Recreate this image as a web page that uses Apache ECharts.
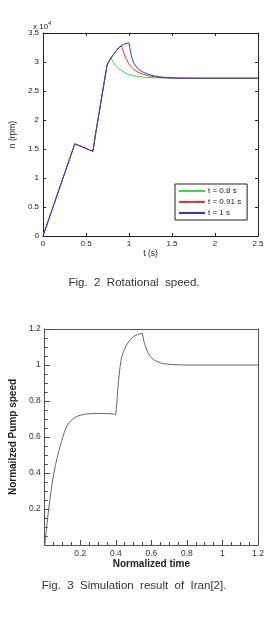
<!DOCTYPE html>
<html>
<head>
<meta charset="utf-8">
<script src="https://cdn.jsdelivr.net/npm/echarts@6/dist/echarts.min.js"></script>
<style>
  html, body { margin: 0; padding: 0; background: #fff; }
  #main { width: 268px; height: 625px; }
</style>
</head>
<body>
<div id="main"></div>
<script>
// Fig. 2 : rotational speed, values in units of 10^4 rpm
var rampPts = [[0, 0], [0.37, 1.59], [0.58, 1.46], [0.61, 1.75], [0.65, 2.1], [0.70, 2.55], [0.745, 2.95], [0.77, 3.02], [0.79, 3.07]];
var greenTail = [[0.80, 3.04], [0.82, 2.99], [0.85, 2.93], [0.88, 2.885], [0.92, 2.845], [0.96, 2.81], [1.0, 2.785], [1.05, 2.765], [1.1, 2.75], [1.2, 2.735], [1.3, 2.727], [1.45, 2.722], [1.6, 2.72], [2.5, 2.72]];
var redTail = [[0.82, 3.13], [0.85, 3.19], [0.88, 3.245], [0.91, 3.28], [0.92, 3.24], [0.935, 3.18], [0.95, 3.12], [0.97, 3.05], [0.99, 2.99], [1.01, 2.94], [1.04, 2.89], [1.08, 2.845], [1.12, 2.81], [1.17, 2.785], [1.23, 2.76], [1.3, 2.745], [1.4, 2.73], [1.55, 2.722], [1.75, 2.72], [2.5, 2.72]];
var blueTail = [[0.82, 3.13], [0.85, 3.19], [0.88, 3.245], [0.91, 3.28], [0.95, 3.31], [1.0, 3.33], [1.01, 3.25], [1.02, 3.16], [1.03, 3.09], [1.045, 3.02], [1.06, 2.97], [1.08, 2.93], [1.1, 2.89], [1.13, 2.855], [1.17, 2.82], [1.22, 2.79], [1.28, 2.765], [1.35, 2.745], [1.45, 2.73], [1.6, 2.722], [1.8, 2.72], [2.5, 2.72]];
var legendNames = ['t = 0.8 s', 't = 0.91 s', 't = 1 s'];

// Fig. 3 : normalized pump speed (Iran[2])
var pumpPts = [[0, 0], [0.01, 0.09], [0.02, 0.18], [0.03, 0.26], [0.04, 0.33], [0.05, 0.39], [0.06, 0.44], [0.07, 0.485], [0.08, 0.525], [0.09, 0.56], [0.1, 0.595], [0.11, 0.625], [0.12, 0.65], [0.13, 0.668], [0.14, 0.683], [0.16, 0.702], [0.18, 0.714], [0.2, 0.721], [0.23, 0.727], [0.27, 0.73], [0.32, 0.731], [0.36, 0.73], [0.4, 0.726],
	[0.405, 0.78], [0.41, 0.85], [0.416, 0.92], [0.424, 0.99], [0.432, 1.04], [0.445, 1.08], [0.46, 1.11], [0.48, 1.14], [0.5, 1.158], [0.52, 1.168], [0.535, 1.173], [0.548, 1.176],
	[0.553, 1.155], [0.56, 1.125], [0.568, 1.10], [0.58, 1.07], [0.595, 1.047], [0.61, 1.032], [0.63, 1.02], [0.65, 1.012], [0.68, 1.006], [0.71, 1.003], [0.75, 1.001], [0.8, 1.0], [1.2, 1.0]];

var chart = echarts.init(document.getElementById('main'));
var font = 'Arial, "Liberation Sans", sans-serif';

//MATLAB style box: ticks inside on all four sides
function boxAxis(type, pos, min, max, step, showLabel, name) {
	var ax = {
		type: 'value', gridIndex: 0, position: pos, min: min, max: max, interval: step,
		axisLine: { show: true, onZero: false, lineStyle: { color: '#222', width: 1 } },
		axisTick: { show: true, inside: true, length: 3, lineStyle: { color: '#222' } },
		axisLabel: { show: showLabel, fontSize: 8, color: '#222', fontFamily: font, margin: 4 },
		splitLine: { show: false }
	};
	if (name) {
		ax.name = name;
		ax.nameLocation = 'middle';
		ax.nameTextStyle = { fontSize: 8.5, color: '#222', fontFamily: font };
		ax.nameGap = type == 'x' ? 13 : 21;
	}
	return ax;
}

//Tecplot style: major + minor ticks on left/bottom, plain frame on top/right
function plotAxis(pos, ticks, name, gap) {
	return {
		type: 'value', gridIndex: 1, position: pos, min: 0, max: 1.2, interval: 0.2,
		axisLine: { show: true, onZero: false, lineStyle: { color: '#555', width: 1 } },
		axisTick: { show: ticks, inside: true, length: 5, lineStyle: { color: '#444' } },
		minorTick: { show: ticks, splitNumber: 4, length: 3, lineStyle: { color: '#444' } },
		axisLabel: {
			show: ticks, fontSize: 8.5, color: '#333', fontFamily: font, margin: 4,
			formatter: function(v) { return v === 0 ? '' : v; }
		},
		splitLine: { show: false },
		minorSplitLine: { show: false },
		name: name,
		nameLocation: 'middle',
		nameGap: gap,
		nameTextStyle: { fontSize: 10, fontWeight: 'bold', color: '#222', fontFamily: font }
	};
}

var lineColors = ['#33dd33', '#e83333', '#3535d0'];
var tails = [greenTail, redTail, blueTail];
var series = [];
for (var i = 0; i < 3; i++) {
	series.push({
		name: legendNames[i],
		type: 'line',
		xAxisIndex: 0,
		yAxisIndex: 0,
		data: rampPts.concat(tails[i]),
		symbol: 'none',
		lineStyle: { color: lineColors[i], width: 1 },
		itemStyle: { color: lineColors[i] },
		z: 2 + i
	});
}
series.push({
	type: 'line',
	xAxisIndex: 2,
	yAxisIndex: 2,
	data: pumpPts,
	symbol: 'none',
	lineStyle: { color: '#666', width: 1 }
});

var option = {
	animation: false,
	backgroundColor: '#fff',
	grid: [
		{ left: 35, right: 10, top: 33, height: 203 },
		{ left: 34, right: 10, top: 329, height: 216 }
	],
	xAxis: [
		boxAxis('x', 'bottom', 0, 2.5, 0.5, true, 't (s)'),
		boxAxis('x', 'top', 0, 2.5, 0.5, false),
		plotAxis('bottom', true, 'Normalized time', 11),
		plotAxis('top', false, '', 0)
	],
	yAxis: [
		boxAxis('y', 'left', 0, 3.5, 0.5, true, 'n (rpm)'),
		boxAxis('y', 'right', 0, 3.5, 0.5, false),
		plotAxis('left', true, 'Normailzed Pump speed', 21),
		plotAxis('right', false, '', 0)
	],
	legend: {
		data: legendNames,
		orient: 'vertical',
		left: 175,
		top: 184,
		width: 75,
		padding: [3, 6, 3, 4],
		itemGap: 3,
		itemWidth: 26,
		itemHeight: 2,
		icon: 'rect',
		backgroundColor: '#fff',
		borderColor: '#222',
		borderWidth: 1,
		borderRadius: 0,
		textStyle: { fontSize: 8, color: '#222', fontFamily: font, padding: [0, 0, 0, -2] }
	},
	graphic: [
		{
			type: 'text', left: 33, top: 20,
			style: {
				text: '{b|x 10}{s|4}',
				rich: {
					b: { fontSize: 8, fill: '#222', fontFamily: font, padding: [3, 0, 0, 0] },
					s: { fontSize: 6, fill: '#222', fontFamily: font, verticalAlign: 'top', padding: [0, 0, 4, 0] }
				}
			}
		},
		{
			type: 'text', left: 'center', top: 277,
			style: { text: 'Fig.  2  Rotational  speed.', fontSize: 11.5, fill: '#333', fontFamily: font }
		},
		{
			type: 'text', left: 'center', top: 580,
			style: { text: 'Fig.  3  Simulation  result  of  Iran[2].', fontSize: 11.5, fill: '#333', fontFamily: font }
		}
	],
	series: series
};
chart.setOption(option);
</script>
</body>
</html>
